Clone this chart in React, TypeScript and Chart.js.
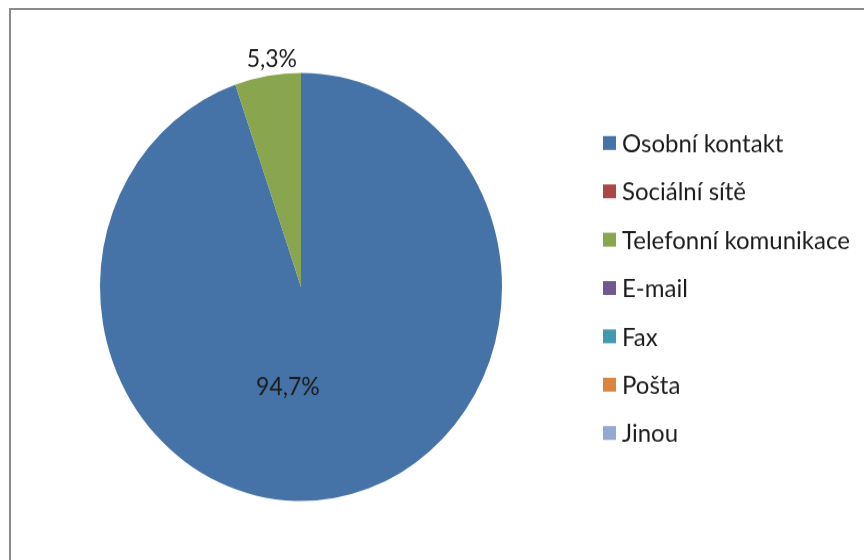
import React, { useEffect, useRef } from "react";
import { Chart, registerables } from "chart.js";

Chart.register(...registerables);

const categories = [
  "Osobní kontakt",
  "Sociální sítě",
  "Telefonní komunikace",
  "E-mail",
  "Fax",
  "Pošta",
  "Jinou",
];
const shares = [94.7, 0, 5.3, 0, 0, 0, 0];
const shareLabels = ["94,7%", "", "5,3%", "", "", "", ""];
const colors = ["#4572A7", "#AA4643", "#89A54E", "#71588F", "#4198AF", "#DB843D", "#93A9CF"];

const SCALE_Y = 560 / 526;
const FONT = "Lato, 'Open Sans', sans-serif";
const TEXT_COLOR = "#1c1c1c";

const labelPlugin = {
  id: "sliceLabels",
  afterDatasetsDraw(chart: any) {
    const ctx = chart.ctx;
    const meta = chart.getDatasetMeta(0);
    ctx.save();
    ctx.font = `23px ${FONT}`;
    ctx.fillStyle = TEXT_COLOR;
    ctx.textBaseline = "middle";
    ctx.textAlign = "center";
    meta.data.forEach((arc: any, i: number) => {
      const txt = shareLabels[i];
      if (!txt) return;
      const R = arc.outerRadius;
      if (shares[i] > 50) {
        ctx.fillText(txt, arc.x - 0.065 * R, arc.y + 0.467 * R);
      } else {
        ctx.fillText(txt, arc.x - 0.145 * R, arc.y - R - 13);
      }
    });
    ctx.restore();
  },
};

const legendPlugin = {
  id: "sideLegend",
  afterDraw(chart: any) {
    const ctx = chart.ctx;
    const meta = chart.getDatasetMeta(0);
    const arc = meta.data[0];
    const spacing = 45.4;
    const startY = arc.y - 3 * spacing + 1;
    const boxX = 603;
    const box = 13;
    ctx.save();
    ctx.font = `24px ${FONT}`;
    ctx.textBaseline = "middle";
    ctx.textAlign = "left";
    categories.forEach((lab, i) => {
      const y = startY + i * spacing;
      ctx.fillStyle = colors[i];
      ctx.fillRect(boxX, y - box / 2, box, box);
      ctx.fillStyle = TEXT_COLOR;
      ctx.fillText(lab, boxX + box + 6, y + 1);
    });
    ctx.restore();
  },
};

export default function App() {
  const ref = useRef<HTMLCanvasElement>(null);
  useEffect(() => {
    if (!ref.current) return;
    const chart = new Chart(ref.current, {
      type: "pie",
      data: {
        labels: categories,
        datasets: [
          {
            data: shares,
            backgroundColor: colors,
            borderWidth: 0,
          },
        ],
      },
      options: {
        responsive: false,
        animation: false,
        layout: { padding: { left: 100, right: 362, top: 68.5, bottom: 55.5 } },
        plugins: {
          legend: { display: false },
          tooltip: { enabled: false },
        },
      },
      plugins: [labelPlugin, legendPlugin],
    });
    return () => chart.destroy();
  }, []);

  return (
    <div
      style={{
        position: "absolute",
        left: 0,
        top: 0,
        width: 864,
        height: 560,
        background: "#fff",
        overflow: "hidden",
      }}
    >
      <div
        style={{
          position: "absolute",
          left: 9,
          top: 8,
          width: 900,
          height: 600,
          borderTop: "2px solid #8a8a8a",
          borderLeft: "2px solid #8a8a8a",
        }}
      />
      <div
        style={{
          position: "absolute",
          left: 0,
          top: 0,
          width: 864,
          height: 526,
          transform: `scaleY(${SCALE_Y})`,
          transformOrigin: "0 0",
        }}
      >
        <canvas ref={ref} width={864} height={526} style={{ display: "block" }} />
      </div>
    </div>
  );
}
